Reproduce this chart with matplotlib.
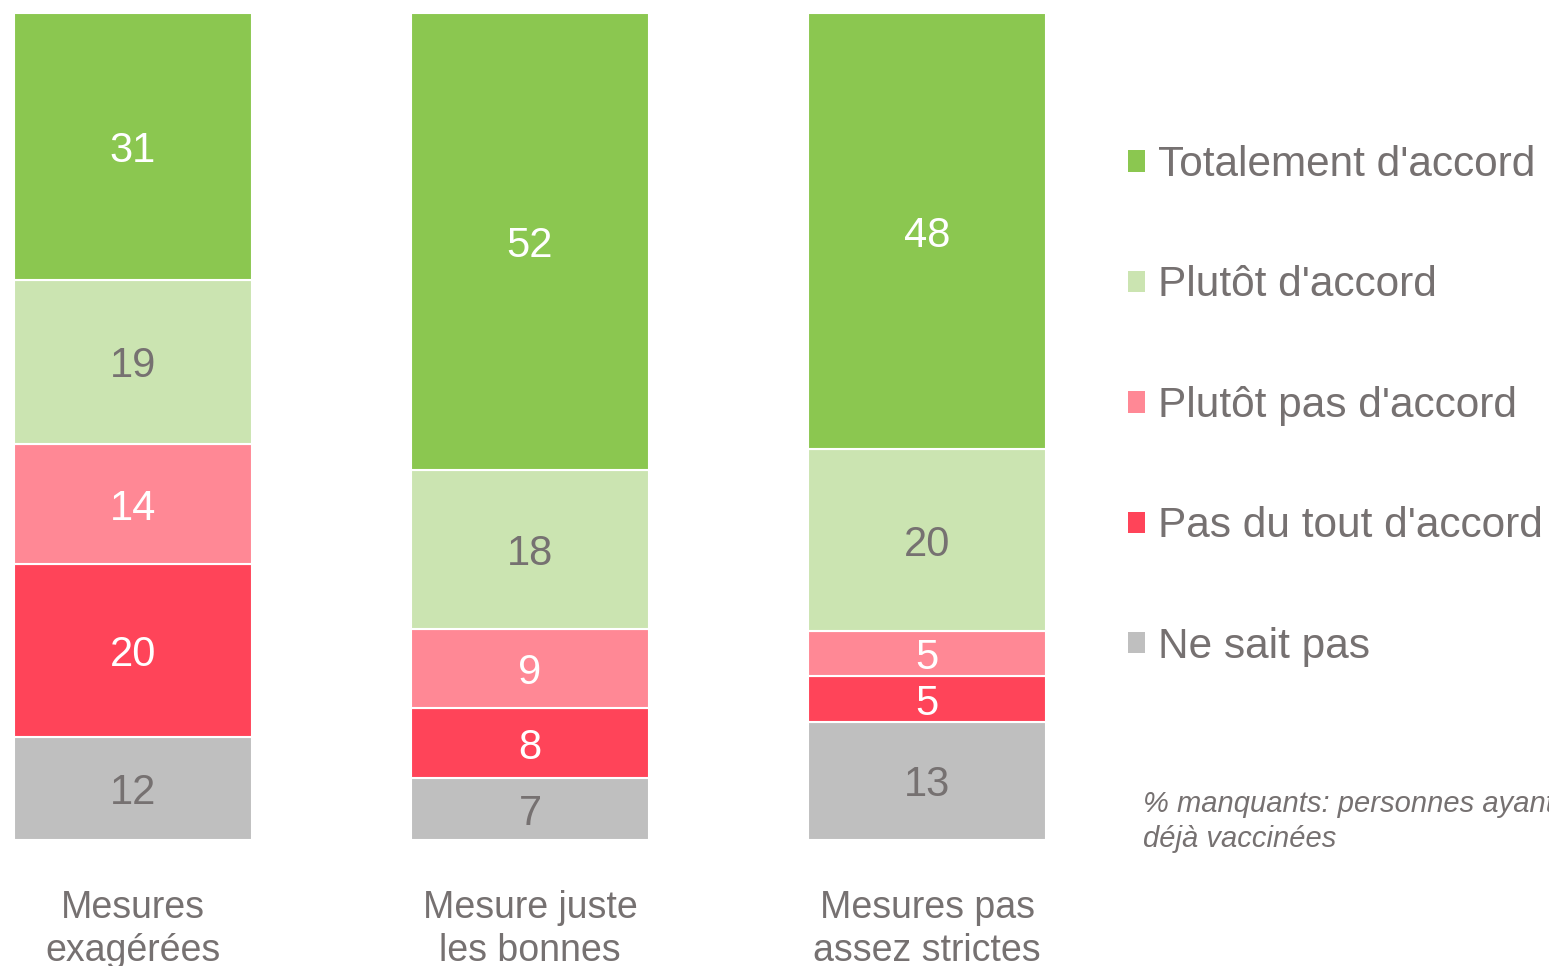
"""Stacked 100% bars: agreement by opinion on the measures."""

import matplotlib.pyplot as plt
import numpy as np

plt.rcParams["font.family"] = ["Liberation Sans", "DejaVu Sans"]

categories = ["Mesures\nexagérées", "Mesure juste\nles bonnes", "Mesures pas\nassez strictes"]

# stacked from bottom to top
series_names = [
    "Ne sait pas",
    "Pas du tout d'accord",
    "Plutôt pas d'accord",
    "Plutôt d'accord",
    "Totalement d'accord",
]
ne_sait_pas = [12, 7, 13]
pas_du_tout = [20, 8, 5]
plutot_pas = [14, 9, 5]
plutot = [19, 18, 20]
totalement = [31, 52, 48]

COLORS = ["#BFBFBF", "#FF4459", "#FF8895", "#CBE4B1", "#8BC750"]
LABEL_COLORS = ["#767171", "white", "white", "#767171", "white"]
GREY_TEXT = "#767171"

values = np.array([ne_sait_pas, pas_du_tout, plutot_pas, plutot, totalement], dtype=float)
shares = values / values.sum(axis=0) * 100

fig = plt.figure(figsize=(15.49, 9.66), dpi=100)
ax = fig.add_axes([0, 126 / 966, 1100 / 1549, 827 / 966])

x = np.arange(len(categories))
bottom = np.zeros(len(categories))
for name, vals, share, color, tcolor in zip(series_names, values, shares, COLORS, LABEL_COLORS):
    ax.bar(x, share, width=0.6, bottom=bottom, color=color,
           edgecolor="white", linewidth=1.5)
    for xi, b, s, v in zip(x, bottom, share, vals):
        ax.text(xi, b + s / 2, f"{v:.0f}", ha="center", va="center_baseline",
                fontsize=30, color=tcolor)
    bottom += share

ax.set_xlim(-133 / 397, (1100 - 133) / 397)
ax.set_ylim(0, 100)
ax.set_xticks(x)
ax.set_xticklabels(categories, fontsize=27, color=GREY_TEXT, linespacing=1.24)
ax.tick_params(axis="x", length=0, pad=36)
ax.set_yticks([])
for spine in ax.spines.values():
    spine.set_visible(False)

# legend squares without the white bar edges
handles = [plt.Rectangle((0, 0), 1, 1, facecolor=c, edgecolor="none") for c in COLORS]
leg = fig.legend(handles[::-1], series_names[::-1], loc="upper left",
                 bbox_to_anchor=(1128 / 1549, 1 - 145 / 966), frameon=False,
                 fontsize=30.5, handlelength=0.4, handleheight=0.4,
                 handletextpad=0.3, labelspacing=1.9, borderaxespad=0,
                 borderpad=0)
for txt in leg.get_texts():
    txt.set_color(GREY_TEXT)

fig.text(1143 / 1549, 1 - 790 / 966, "% manquants: personnes ayant\ndéjà vaccinées",
         fontsize=21, style="italic", color=GREY_TEXT, ha="left", va="top",
         linespacing=1.3)

fig.savefig("out.png", dpi=100)
